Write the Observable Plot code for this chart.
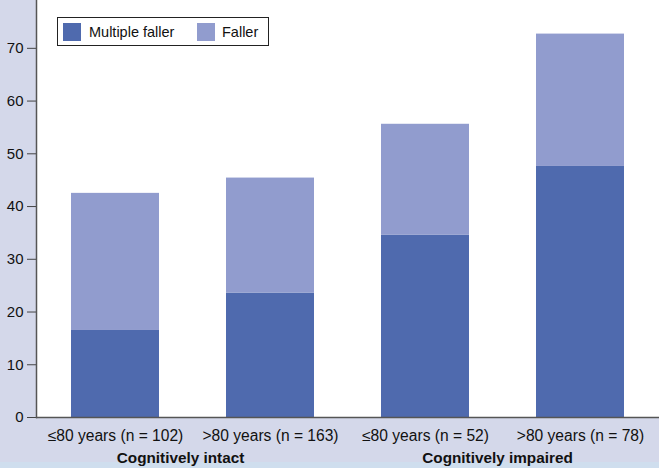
<!DOCTYPE html>
<html>
<head>
<meta charset="utf-8">
<script src="https://cdn.jsdelivr.net/npm/d3@7"></script>
<script src="https://cdn.jsdelivr.net/npm/@observablehq/plot@0.6"></script>
<style>
  html, body { margin: 0; padding: 0; }
  body { width: 659px; height: 468px; overflow: hidden; background: #d4d8ea; position: relative;
         font-family: "Liberation Sans", Arial, Helvetica, sans-serif; }
  #strip { position: absolute; left: 0; top: 462px; width: 659px; height: 6px; background: #cfdeee; }
  #chart { position: absolute; left: 0; top: -26px; }
  #legend { position: absolute; left: 57px; top: 17px; width: 210px; height: 27px; background: #fff;
            border: 1px solid #222; font-size: 14.5px; color: #111; white-space: nowrap; }
  #legend .sw { position: absolute; top: 5px; width: 18px; height: 18px; }
  #legend .lb { position: absolute; top: 5px; line-height: 18px; }
</style>
</head>
<body>
<div id="strip"></div>
<div id="chart"></div>
<div id="legend"></div>
<script>
const categories = ["\u226480 years (n = 102)", ">80 years (n = 163)", "\u226480 years (n = 52)", ">80 years (n = 78)"];
const groups = ["Cognitively intact", "Cognitively impaired"];
const series = ["Multiple faller", "Faller"];
const multipleFaller = [16.5, 23.6, 34.6, 47.6];
const fallerTotal = [42.5, 45.4, 55.6, 72.7];
const yTicks = [0, 10, 20, 30, 40, 50, 60, 70, 80];
const colors = ["#4f6aae", "#919cce"];

const data = [];
categories.forEach((c, i) => {
  data.push({cat: c, series: series[0], y1: 0, y2: multipleFaller[i]});
  data.push({cat: c, series: series[1], y1: multipleFaller[i], y2: fallerTotal[i]});
});

const font = "\"Liberation Sans\", Arial, Helvetica, sans-serif";

const chart = Plot.plot({
  width: 659,
  height: 494,
  marginTop: 0,
  marginLeft: 36,
  marginRight: 0,
  marginBottom: 51,
  style: {fontFamily: font, fontSize: "15px", color: "#111", background: "transparent"},
  x: {domain: categories, paddingInner: 0.43, paddingOuter: 0.215, label: null},
  y: {domain: [0, 84], label: null},
  color: {domain: series, range: colors},
  marks: [
    Plot.frame({fill: "white", stroke: null}),
    Plot.rectY(data, {x: "cat", y1: "y1", y2: "y2", fill: "series"}),
    Plot.axisY({ticks: yTicks, tickSize: 9, tickPadding: 4, stroke: "#444", strokeOpacity: 1, fontSize: 15, label: null}),
    Plot.axisX({tickSize: 0, tickPadding: 12, fontSize: 15.6, label: null}),
    Plot.frame({anchor: "left", stroke: "#555", strokeWidth: 1.5}),
    Plot.ruleY([0], {stroke: "#555", strokeWidth: 1.5}),
    Plot.text([groups[0]], {x: () => categories[0], frameAnchor: "bottom", dy: 45, dx: 65, fontWeight: "bold", fontSize: 15.3, fill: "#111"}),
    Plot.text([groups[1]], {x: () => categories[2], frameAnchor: "bottom", dy: 45, dx: 72, fontWeight: "bold", fontSize: 15.3, fill: "#111"})
  ]
});
document.getElementById("chart").appendChild(chart);

const legend = document.getElementById("legend");
const swX = [5, 139];
const lbX = [31, 164];
series.forEach((s, i) => {
  const sw = document.createElement("div");
  sw.className = "sw";
  sw.style.left = swX[i] + "px";
  sw.style.background = colors[i];
  const t = document.createElement("span");
  t.className = "lb";
  t.style.left = lbX[i] + "px";
  t.textContent = s;
  legend.appendChild(sw);
  legend.appendChild(t);
});
</script>
</body>
</html>
